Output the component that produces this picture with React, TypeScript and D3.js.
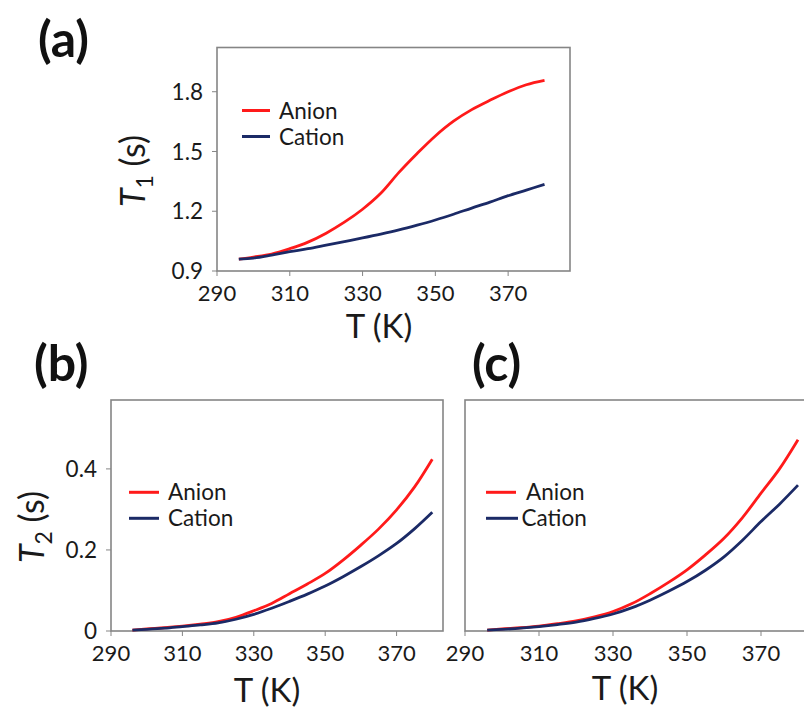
import React from "react";
import * as d3 from "d3";

const temps = [296, 300, 305, 310, 315, 320, 325, 330, 335, 340, 345, 350, 355, 360, 365, 370, 375, 380];

const anionT1 = [0.96, 0.97, 0.985, 1.012, 1.045, 1.09, 1.145, 1.21, 1.29, 1.395, 1.49, 1.578, 1.652, 1.71, 1.757, 1.8, 1.835, 1.857];
const cationT1 = [0.96, 0.965, 0.98, 0.997, 1.012, 1.03, 1.048, 1.066, 1.085, 1.106, 1.13, 1.156, 1.185, 1.216, 1.246, 1.278, 1.306, 1.335];

const anionT2b = [0.002, 0.005, 0.008, 0.012, 0.017, 0.023, 0.034, 0.05, 0.068, 0.092, 0.116, 0.142, 0.175, 0.212, 0.252, 0.299, 0.355, 0.424];
const cationT2b = [0.002, 0.004, 0.007, 0.011, 0.015, 0.02, 0.029, 0.041, 0.056, 0.073, 0.091, 0.111, 0.134, 0.159, 0.186, 0.216, 0.252, 0.293];

const anionT2c = [0.002, 0.005, 0.008, 0.012, 0.018, 0.025, 0.035, 0.048, 0.067, 0.092, 0.12, 0.151, 0.188, 0.229, 0.28, 0.34, 0.4, 0.472];
const cationT2c = [0.002, 0.004, 0.007, 0.011, 0.016, 0.022, 0.031, 0.042, 0.057, 0.076, 0.098, 0.122, 0.15, 0.183, 0.224, 0.27, 0.313, 0.36];

const xTicks = [290, 310, 330, 350, 370];
const yTicksA = [0.9, 1.2, 1.5, 1.8];
const yTicksB = [0, 0.2, 0.4];
const seriesNames = ["Anion", "Cation"];

const RED = "#ff1a1a";
const NAVY = "#1b2a66";
const FRAME = "#858585";
const TEXT = "#1a1a1a";
const FONT = "Lato, 'Open Sans', sans-serif";

type PanelProps = {
  label: string;
  labelX: number;
  labelY: number;
  xDomain: [number, number];
  xRange: [number, number];
  yDomain: [number, number];
  yRange: [number, number];
  anion: number[];
  cation: number[];
  yTicks: number[];
  yFmt?: (v: number) => string;
  showYLabels: boolean;
  yTitle?: string;
  yTitleX: number;
  yTitleY: number;
  xTitleX: number;
  xTitleY: number;
  legend: { lx1: number; lx2: number; tx: number; y1: number; y2: number; lx2b?: number; txb?: number };
};

function Panel(p: PanelProps) {
  const x = d3.scaleLinear().domain(p.xDomain).range(p.xRange);
  const y = d3.scaleLinear().domain(p.yDomain).range(p.yRange);
  const line = d3
    .line<number>()
    .x((_, i) => x(temps[i]))
    .y((d) => y(d))
    .curve(d3.curveCatmullRom.alpha(0.5));
  const [x0, x1] = p.xRange;
  const [yb, yt] = p.yRange;
  const fmt = p.yFmt || ((v: number) => String(v));
  return (
    <g>
      <text x={p.labelX} y={p.labelY} fontFamily={FONT} fontWeight={700} fontSize={50} fill="#111">
        {p.label}
      </text>
      <rect x={x0} y={yt} width={x1 - x0} height={yb - yt} fill="white" stroke={FRAME} strokeWidth={1.6} />
      {xTicks.map((t) => (
        <g key={"xt" + t}>
          <line x1={x(t)} x2={x(t)} y1={yb} y2={yb + 5} stroke={FRAME} strokeWidth={1} />
          <text x={x(t)} y={yb + 30} textAnchor="middle" fontFamily={FONT} fontSize={22} fill={TEXT}>
            {t}
          </text>
        </g>
      ))}
      {p.yTicks.map((t) => (
        <g key={"yt" + t}>
          <line x1={x0 - 5} x2={x0} y1={y(t)} y2={y(t)} stroke={FRAME} strokeWidth={1} />
          {p.showYLabels && (
            <text x={x0 - 14} y={y(t)} dy="0.36em" textAnchor="end" fontFamily={FONT} fontSize={22.5} fill={TEXT}>
              {fmt(t)}
            </text>
          )}
        </g>
      ))}
      <path d={line(p.anion) || ""} fill="none" stroke={RED} strokeWidth={2.8} />
      <path d={line(p.cation) || ""} fill="none" stroke={NAVY} strokeWidth={2.8} />
      <line x1={p.legend.lx1} x2={p.legend.lx2} y1={p.legend.y1} y2={p.legend.y1} stroke={RED} strokeWidth={3} />
      <text x={p.legend.tx} y={p.legend.y1} dy="0.36em" fontFamily={FONT} fontSize={22.5} fill={TEXT}>
        {seriesNames[0]}
      </text>
      <line
        x1={p.legend.lx1}
        x2={p.legend.lx2b ?? p.legend.lx2}
        y1={p.legend.y2}
        y2={p.legend.y2}
        stroke={NAVY}
        strokeWidth={3}
      />
      <text x={p.legend.txb ?? p.legend.tx} y={p.legend.y2} dy="0.36em" fontFamily={FONT} fontSize={22.5} fill={TEXT}>
        {seriesNames[1]}
      </text>
      <text x={p.xTitleX} y={p.xTitleY} textAnchor="middle" fontFamily={FONT} fontSize={33} fill={TEXT}>
        T (K)
      </text>
      {p.yTitle && (
        <text
          transform={`translate(${p.yTitleX},${p.yTitleY}) rotate(-90)`}
          textAnchor="middle"
          fontFamily={FONT}
          fontSize={34}
          fill={TEXT}
          dy="0.36em"
        >
          <tspan fontStyle="italic">T</tspan>
          <tspan fontSize={23} dy="8">{p.yTitle}</tspan>
          <tspan dy="-8"> (s)</tspan>
        </text>
      )}
    </g>
  );
}

export default function App() {
  return (
    <svg
      width={804}
      height={711}
      viewBox="0 0 804 711"
      style={{ position: "absolute", left: 0, top: 0, background: "white" }}
    >
      <rect x={0} y={0} width={804} height={711} fill="white" />
      <Panel
        label="(a)"
        labelX={38}
        labelY={57}
        xDomain={[290, 387]}
        xRange={[217, 570]}
        yDomain={[0.9, 2.022]}
        yRange={[271, 47.5]}
        anion={anionT1}
        cation={cationT1}
        yTicks={yTicksA}
        yFmt={(v) => v.toFixed(1)}
        showYLabels={true}
        yTitle="1"
        yTitleX={133}
        yTitleY={171}
        xTitleX={379}
        xTitleY={338}
        legend={{ lx1: 242, lx2: 270, tx: 279, y1: 110.5, y2: 136.5 }}
      />
      <Panel
        label="(b)"
        labelX={34}
        labelY={381}
        xDomain={[290, 383]}
        xRange={[111, 443]}
        yDomain={[0, 0.57]}
        yRange={[631, 400]}
        anion={anionT2b}
        cation={cationT2b}
        yTicks={yTicksB}
        yFmt={(v) => (v === 0 ? "0" : v.toFixed(1))}
        showYLabels={true}
        yTitle="2"
        yTitleX={32}
        yTitleY={527}
        xTitleX={267}
        xTitleY={702}
        legend={{ lx1: 129, lx2: 159, tx: 168, y1: 492.3, y2: 518.3 }}
      />
      <Panel
        label="(c)"
        labelX={472}
        labelY={381}
        xDomain={[290, 390]}
        xRange={[465, 835]}
        yDomain={[0, 0.57]}
        yRange={[631, 400]}
        anion={anionT2c}
        cation={cationT2c}
        yTicks={[]}
        showYLabels={false}
        yTitleX={0}
        yTitleY={0}
        xTitleX={625}
        xTitleY={700}
        legend={{ lx1: 486, lx2: 516, tx: 526, y1: 492.3, y2: 518.3, lx2b: 518, txb: 521.5 }}
      />
    </svg>
  );
}
